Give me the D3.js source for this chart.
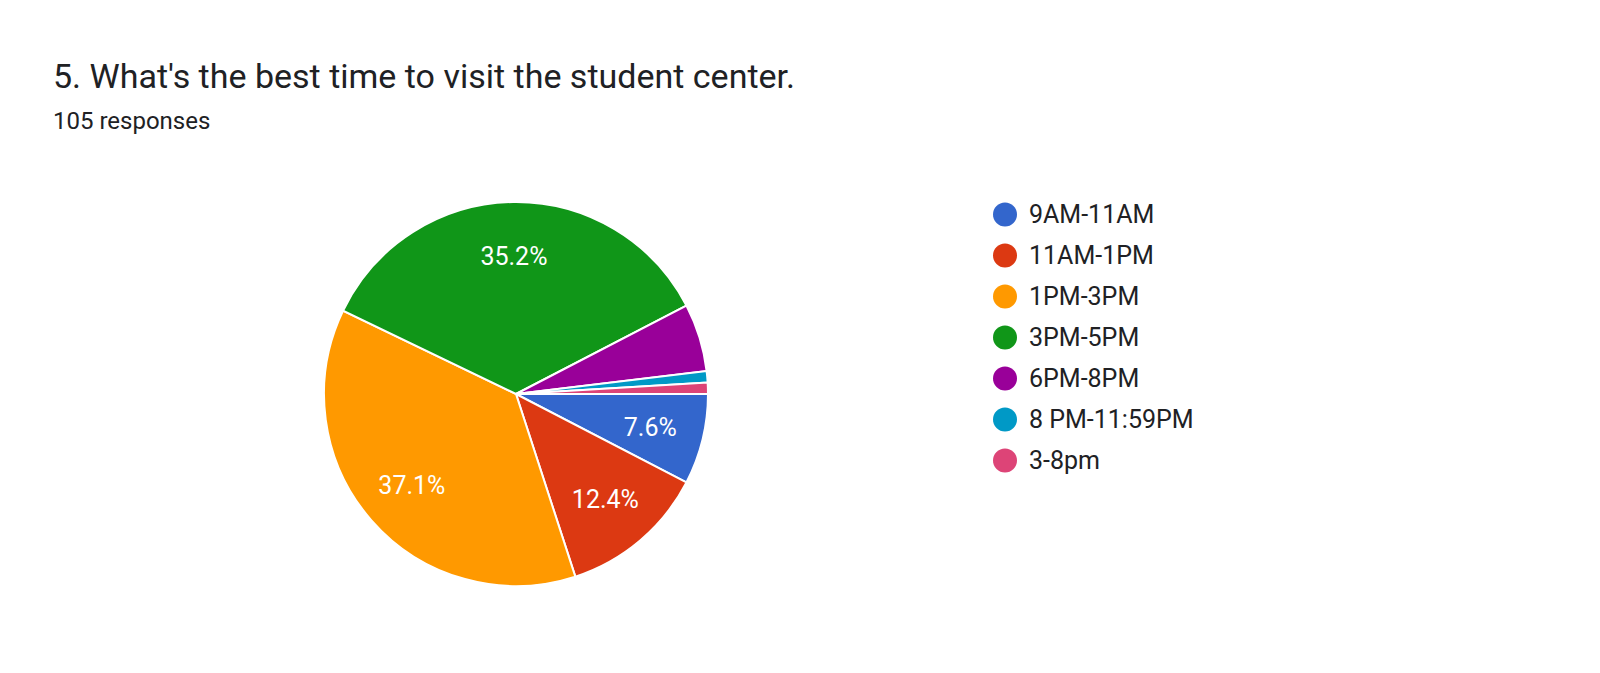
<!DOCTYPE html>
<html><head><meta charset="utf-8">
<script src="https://cdn.jsdelivr.net/npm/d3@7"></script>
<style>body{margin:0;background:#fff}text{font-family:Roboto,"Noto Sans",sans-serif}</style>
</head><body><svg id="c" width="1600" height="673"></svg>
<script>
const categories=["9AM-11AM","11AM-1PM","1PM-3PM","3PM-5PM","6PM-8PM","8 PM-11:59PM","3-8pm"];
const counts=[8,13,39,37,6,1,1];
const colors=["#3366cc","#dc3912","#ff9900","#109618","#990099","#0099c6","#dd4477"];
const title="5. What's the best time to visit the student center.";
const subtitle="105 responses";
const svg=d3.select("#c");
svg.append("text").attr("x",53).attr("y",88).attr("font-size",34).attr("fill","#202124").text(title);
svg.append("text").attr("x",53).attr("y",129).attr("font-size",24).attr("fill","#202124").text(subtitle);
const total=d3.sum(counts);
const pie=d3.pie().sort(null).startAngle(Math.PI/2).endAngle(Math.PI/2+2*Math.PI);
const arcs=pie(counts);
const r=192;
const g=svg.append("g").attr("transform","translate(516,394)");
const arc=d3.arc().innerRadius(0).outerRadius(r);
g.selectAll("path").data(arcs).join("path").attr("d",arc)
 .attr("fill",(d,i)=>colors[i]).attr("stroke","#fff").attr("stroke-width",2);
const la=d3.arc().innerRadius(r*0.72).outerRadius(r*0.72);
g.selectAll("text.l").data(arcs.filter(d=>d.value/total>0.07)).join("text")
 .attr("transform",d=>`translate(${la.centroid(d)})`).attr("text-anchor","middle").attr("dy","0.35em")
 .attr("font-size",25).attr("fill","#fff").text(d=>(d.value/total*100).toFixed(1)+"%");
const y=d3.scaleBand().domain(categories).range([194,481]);
const lg=svg.append("g");
categories.forEach((c,i)=>{
 const cy=y(c)+y.bandwidth()/2;
 lg.append("circle").attr("cx",1005).attr("cy",cy).attr("r",12).attr("fill",colors[i]);
 lg.append("text").attr("x",1029).attr("y",cy).attr("dy","0.35em").attr("font-size",25).attr("fill","#202124").text(c);
});
</script></body></html>
